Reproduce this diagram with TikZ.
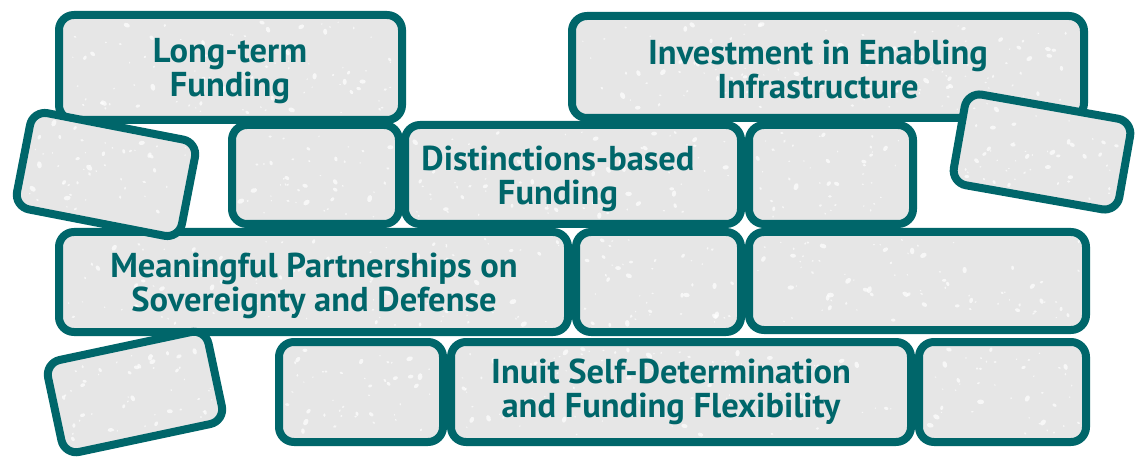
\documentclass[tikz,border=0pt]{standalone}
\usepackage{fontspec}
\setmainfont{PT Sans}
\definecolor{brickteal}{HTML}{00666A}
\definecolor{brickgrey}{HTML}{E6E6E6}
\newcommand{\brickspeck}[6]{%
  \begin{scope}[shift={(#1,#2)},rotate=#5]
    \foreach \k in {1,...,#6}{
      \pgfmathsetmacro{\sx}{rand*(#3/2-7)}
      \pgfmathsetmacro{\sy}{rand*(#4/2-7)}
      \pgfmathsetmacro{\sr}{0.6+1.8*rnd^2}
      \pgfmathsetmacro{\sa}{360*rnd}
      \fill[white,opacity=0.7,rotate around={\sa:(\sx,\sy)}] (\sx,\sy) ellipse ({\sr*1.5} and {\sr});
    }
  \end{scope}}
\begin{document}
\begin{tikzpicture}[x=1pt,y=-1pt,
  brick/.style={draw=brickteal, fill=brickgrey, line width=8pt, rounded corners=15pt, inner sep=0pt, rectangle},
  lbl/.style={font=\bfseries\fontsize{34.5}{34}\selectfont, text=brickteal, align=center, inner sep=0pt}]
\pgfmathsetseed{7}
\useasboundingbox (0,0) rectangle (1142,462);
% row 1
\node[brick, minimum width=343pt, minimum height=105pt] (b1) at (230.5,67.5) {};
\node[brick, minimum width=512pt, minimum height=102pt] (b2) at (828,67) {};
% row 2
\node[brick, minimum width=167pt, minimum height=99pt] (b3) at (315.5,174.5) {};
\node[brick, minimum width=336pt, minimum height=99pt] (b4) at (573,174.5) {};
\node[brick, minimum width=164pt, minimum height=99pt] (b5) at (831,174.5) {};
% row 3
\node[brick, minimum width=509pt, minimum height=100pt] (b6) at (313.5,282) {};
\node[brick, minimum width=165pt, minimum height=100pt] (b7) at (658.5,282) {};
\node[brick, minimum width=337pt, minimum height=98pt] (b8) at (917.5,281) {};
% row 4
\node[brick, minimum width=164pt, minimum height=100pt] (b9) at (361,392) {};
\node[brick, minimum width=460pt, minimum height=100pt] (b10) at (681,392) {};
\node[brick, minimum width=167pt, minimum height=100pt] (b11) at (1002.5,392) {};
% speckles on straight bricks
\brickspeck{230.5}{67.5}{343}{105}{0}{90}
\brickspeck{828}{67}{512}{102}{0}{120}
\brickspeck{315.5}{174.5}{167}{99}{0}{45}
\brickspeck{573}{174.5}{336}{99}{0}{80}
\brickspeck{831}{174.5}{164}{99}{0}{45}
\brickspeck{313.5}{282}{509}{100}{0}{110}
\brickspeck{658.5}{282}{165}{100}{0}{45}
\brickspeck{917.5}{281}{337}{98}{0}{80}
\brickspeck{361}{392}{164}{100}{0}{45}
\brickspeck{681}{392}{460}{100}{0}{100}
\brickspeck{1002.5}{392}{167}{100}{0}{45}
% tilted bricks
\node[brick, minimum width=168pt, minimum height=98pt, rotate=-11] (t1) at (106,174.5) {};
\brickspeck{106}{174.5}{168}{98}{-11}{50}
\node[brick, minimum width=168pt, minimum height=92pt, rotate=-10] (t2) at (1042,152) {};
\brickspeck{1042}{152}{168}{92}{-10}{50}
\node[brick, minimum width=164pt, minimum height=94pt, rotate=12] (t3) at (135,392) {};
\brickspeck{135}{392}{164}{94}{12}{50}
% labels
\node[lbl] (l1) at (230,71) {Long-term\\Funding};
\node[lbl] (l2) at (818,69) {Investment in Enabling\\Infrastructure};
\node[lbl] (l3) at (558,179) {Distinctions-based\\Funding};
\node[lbl] (l4) at (314,286) {Meaningful Partnerships on\\Sovereignty and Defense};
\node[lbl] (l5) at (671,392) {Inuit Self-Determination\\and Funding Flexibility};
\end{tikzpicture}
\end{document}
